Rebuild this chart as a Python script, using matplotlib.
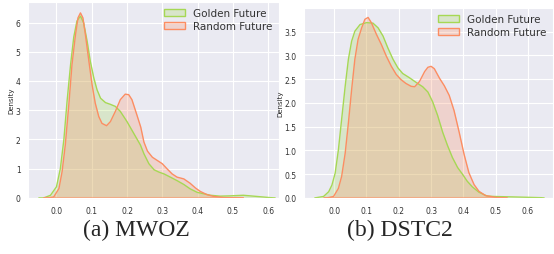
import numpy as np
import matplotlib.pyplot as plt
import seaborn as sns

# density curves (x = score, y = density)
mwoz_gold_x = [-0.05, -0.036, -0.017, 0.0, 0.011, 0.021, 0.030, 0.040, 0.049, 0.058, 0.068, 0.077,
               0.087, 0.096, 0.106, 0.115, 0.125, 0.139, 0.153, 0.167, 0.181, 0.2, 0.219, 0.238,
               0.248, 0.262, 0.277, 0.291, 0.305, 0.323, 0.342, 0.361, 0.379, 0.399, 0.418, 0.437,
               0.464, 0.492, 0.53, 0.568, 0.605, 0.62]
mwoz_gold_y = [0.0, 0.0, 0.09, 0.38, 1.0, 2.0, 3.3, 4.56, 5.5, 6.05, 6.22, 5.99,
               5.36, 4.67, 4.1, 3.7, 3.41, 3.26, 3.2, 3.13, 2.96, 2.61, 2.21, 1.81,
               1.51, 1.17, 0.96, 0.88, 0.82, 0.71, 0.59, 0.46, 0.31, 0.19, 0.14, 0.09,
               0.06, 0.07, 0.09, 0.05, 0.01, 0.0]
mwoz_rand_x = [-0.036, -0.026, -0.008, 0.007, 0.016, 0.025, 0.035, 0.044, 0.054, 0.061, 0.068, 0.075,
               0.082, 0.092, 0.101, 0.110, 0.12, 0.129, 0.142, 0.153, 0.167, 0.181, 0.195, 0.205,
               0.214, 0.228, 0.239, 0.248, 0.258, 0.272, 0.286, 0.3, 0.314, 0.328, 0.342, 0.361,
               0.379, 0.394, 0.408, 0.427, 0.446, 0.474, 0.53]
mwoz_rand_y = [0.0, 0.0, 0.03, 0.32, 0.9, 1.81, 3.18, 4.56, 5.59, 6.16, 6.33, 6.16,
               5.59, 4.67, 3.87, 3.24, 2.78, 2.55, 2.47, 2.61, 2.96, 3.36, 3.55, 3.53,
               3.36, 2.84, 2.42, 1.91, 1.6, 1.39, 1.28, 1.17, 0.99, 0.82, 0.71, 0.65,
               0.5, 0.34, 0.22, 0.11, 0.05, 0.01, 0.0]

dstc_gold_x = [-0.06, -0.033, -0.017, -0.007, 0.003, 0.013, 0.023, 0.034, 0.044, 0.054, 0.064, 0.08,
               0.1, 0.12, 0.136, 0.151, 0.166, 0.182, 0.197, 0.212, 0.233, 0.254, 0.274, 0.29,
               0.305, 0.32, 0.336, 0.351, 0.366, 0.382, 0.397, 0.412, 0.428, 0.448, 0.473, 0.495,
               0.557, 0.64, 0.65]
dstc_gold_y = [0.0, 0.03, 0.13, 0.27, 0.52, 1.01, 1.65, 2.35, 2.92, 3.3, 3.51, 3.65,
               3.69, 3.68, 3.58, 3.41, 3.16, 2.92, 2.74, 2.62, 2.53, 2.43, 2.34, 2.23,
               2.02, 1.74, 1.38, 1.1, 0.85, 0.64, 0.5, 0.35, 0.23, 0.12, 0.04, 0.03,
               0.02, 0.005, 0.0]
dstc_rand_x = [-0.03, -0.022, -0.002, 0.013, 0.023, 0.034, 0.044, 0.054, 0.064, 0.074, 0.085, 0.095,
               0.105, 0.115, 0.131, 0.146, 0.161, 0.177, 0.192, 0.207, 0.222, 0.238, 0.249, 0.264,
               0.28, 0.29, 0.3, 0.31, 0.326, 0.341, 0.356, 0.371, 0.387, 0.402, 0.417, 0.433,
               0.448, 0.468, 0.5, 0.535]
dstc_rand_y = [0.0, 0.0, 0.03, 0.2, 0.45, 0.94, 1.58, 2.28, 2.92, 3.34, 3.58, 3.76,
               3.8, 3.69, 3.44, 3.23, 2.99, 2.77, 2.6, 2.49, 2.41, 2.35, 2.34, 2.45,
               2.66, 2.75, 2.77, 2.72, 2.52, 2.36, 2.16, 1.84, 1.38, 0.92, 0.53, 0.28,
               0.14, 0.05, 0.01, 0.0]

xticks = [0.0, 0.1, 0.2, 0.3, 0.4, 0.5, 0.6]
captions = ['(a) MWOZ', '(b) DSTC2']

green = '#a6d854'
orange = '#fc8d62'

sns.set_style('darkgrid')

fig = plt.figure(figsize=(5.54, 2.55), dpi=100)
ax1 = fig.add_axes([0.051, 0.22, 0.452, 0.768])
ax2 = fig.add_axes([0.549, 0.22, 0.449, 0.745])

panels = [
    (ax1, mwoz_gold_x, mwoz_gold_y, mwoz_rand_x, mwoz_rand_y, (-0.08, 0.63), (0, 6.7), [0, 1, 2, 3, 4, 5, 6]),
    (ax2, dstc_gold_x, dstc_gold_y, dstc_rand_x, dstc_rand_y, (-0.093, 0.677), (0, 4.0),
     [0.0, 0.5, 1.0, 1.5, 2.0, 2.5, 3.0, 3.5]),
]

for ax, gx, gy, rx, ry, xl, yl, yt in panels:
    ax.fill_between(gx, gy, color=green, alpha=0.25, lw=0)
    ax.plot(gx, gy, color=green, lw=1.0)
    ax.fill_between(rx, ry, color=orange, alpha=0.25, lw=0)
    ax.plot(rx, ry, color=orange, lw=1.0)
    ax.plot([rx[0], rx[-1]], [0, 0], color=orange, lw=1.5, alpha=0.6, clip_on=False)
    ax.set_xlim(*xl)
    ax.set_ylim(*yl)
    ax.set_xticks(xticks)
    ax.set_xticklabels([f'{t:.1f}' for t in xticks])
    ax.set_yticks(yt)
    if yt[1] == 1:
        ax.set_yticklabels([str(t) for t in yt])
    else:
        ax.set_yticklabels([f'{t:.1f}' for t in yt])
    ax.tick_params(labelsize=5.5, pad=2, colors='#333333')
    ax.set_ylabel('Density', fontsize=5, labelpad=1)
    h1 = plt.Rectangle((0, 0), 1, 1, facecolor=(0.651, 0.847, 0.329, 0.25), edgecolor=green, lw=1.0)
    h2 = plt.Rectangle((0, 0), 1, 1, facecolor=(0.988, 0.553, 0.384, 0.25), edgecolor=orange, lw=1.0)
    ax.legend([h1, h2], ['Golden Future', 'Random Future'], loc='upper right', fontsize=7.5,
              frameon=False, borderaxespad=0.2, handlelength=2.0, labelspacing=0.3,
              handletextpad=0.8, labelcolor='#333333')

fig.text(136 / 554, 1 - 230 / 255, captions[0], family='Liberation Serif', fontsize=17,
         ha='center', va='center')
fig.text(400 / 554, 1 - 230 / 255, captions[1], family='Liberation Serif', fontsize=17,
         ha='center', va='center')

fig.savefig('out.png', dpi=100)
